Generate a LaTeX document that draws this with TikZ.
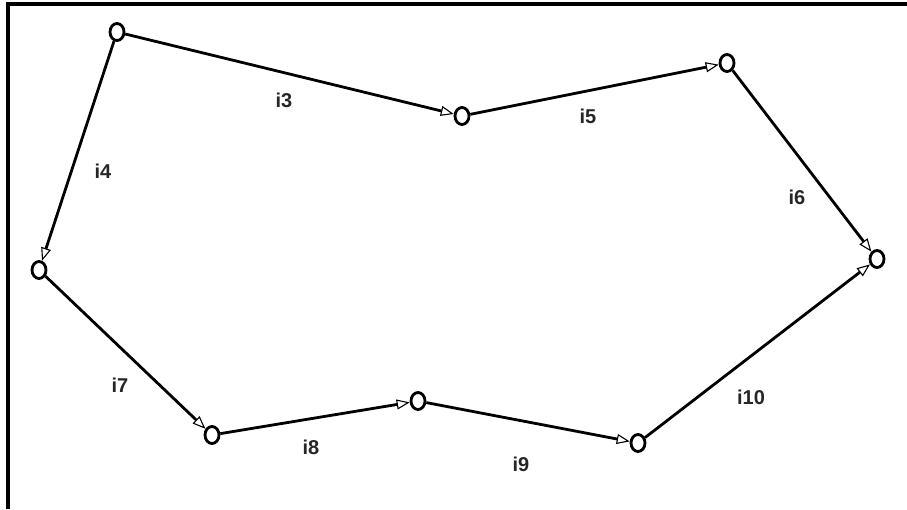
\documentclass[tikz,border=0pt]{standalone}
\usepackage{fontspec}
\setmainfont{Liberation Sans}
\usetikzlibrary{arrows.meta,shapes.geometric}
\begin{document}
\begin{tikzpicture}[x=1pt,y=-1pt,
  vtx/.style={draw=black,line width=2.8pt,fill=white,ellipse,minimum width=14pt,minimum height=17pt,inner sep=0pt},
  edge/.style={draw=black,line width=2.8pt,-{Triangle[open,length=13pt,width=10pt,line width=1.1pt]},shorten >=0pt},
  lbl/.style={font=\fontsize{20}{24}\selectfont\bfseries,text=black!85}]
\useasboundingbox (0,0) rectangle (907,509);
\draw[line width=3.2pt] (8,509) -- (8,4) -- (907,4);
\node[vtx] (n1) at (117,32) {};
\node[vtx] (n2) at (462,116) {};
\node[vtx] (n3) at (727,63) {};
\node[vtx] (n4) at (877,259) {};
\node[vtx] (n5) at (39,270) {};
\node[vtx] (n6) at (212,435) {};
\node[vtx] (n7) at (418,401) {};
\node[vtx] (n8) at (638,443) {};
\draw[edge] (n1) -- (n2);
\draw[edge] (n1) -- (n5);
\draw[edge] (n2) -- (n3);
\draw[edge] (n3) -- (n4);
\draw[edge] (n5) -- (n6);
\draw[edge] (n6) -- (n7);
\draw[edge] (n7) -- (n8);
\draw[edge] (n8) -- (n4);
\node[lbl] (l3) at (284,100) {i3};
\node[lbl] (l4) at (103,171) {i4};
\node[lbl] (l5) at (588,116) {i5};
\node[lbl] (l6) at (797,197) {i6};
\node[lbl] (l7) at (120,385) {i7};
\node[lbl] (l8) at (311,447) {i8};
\node[lbl] (l9) at (521,464) {i9};
\node[lbl] (l10) at (751,397) {i10};
\end{tikzpicture}
\end{document}
